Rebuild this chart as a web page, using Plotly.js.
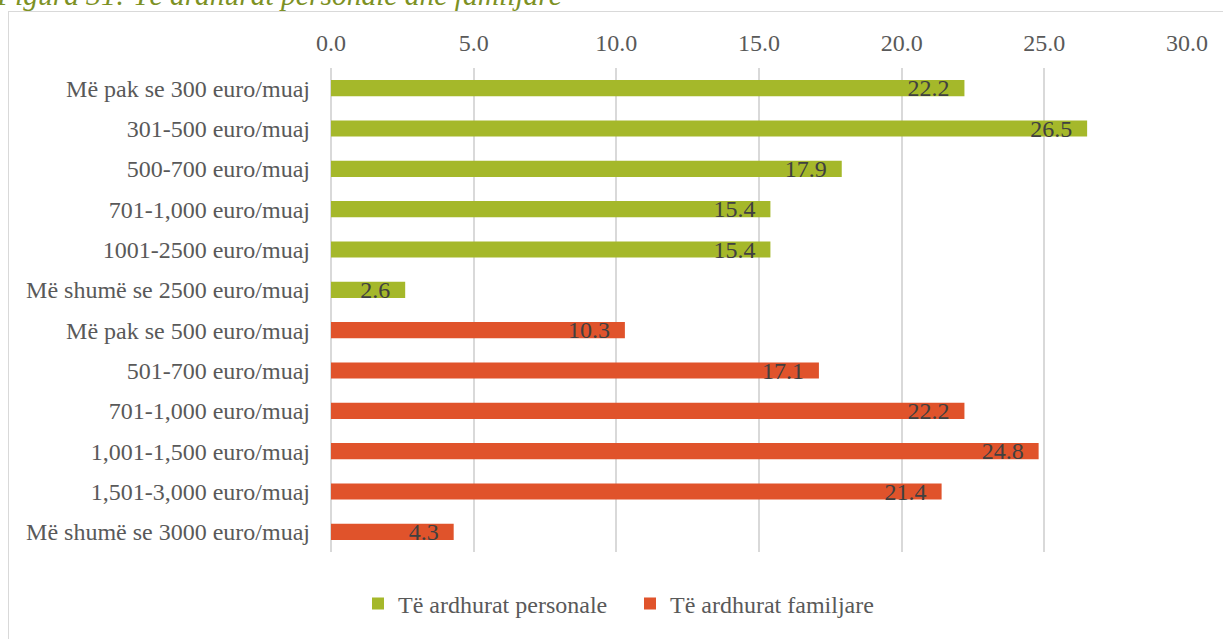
<!DOCTYPE html>
<html>
<head>
<meta charset="utf-8">
<script src="https://cdn.plot.ly/plotly-3.0.1.min.js"></script>
<style>
  html, body { margin: 0; padding: 0; background: #fff; overflow: hidden; }
  #wrap { position: relative; width: 1223px; height: 639px; }
  #frame { position: absolute; left: 8px; top: 11px; width: 1240px; height: 700px;
           border: 1.5px solid #d9d9d9; box-sizing: border-box; pointer-events: none; z-index: 5; }
  #chart { position: absolute; left: 0; top: 0; width: 1223px; height: 639px; }
</style>
</head>
<body>
<div id="wrap">
  <div id="chart"></div>
  <div id="frame"></div>
</div>
<script>
const titleText = "Figura 31: Të ardhurat personale dhe familjare";
const personalLabels = [
  "Më pak se 300 euro/muaj",
  "301-500 euro/muaj",
  "500-700 euro/muaj",
  "701-1,000 euro/muaj",
  "1001-2500 euro/muaj",
  "Më shumë se 2500 euro/muaj"
];
const personalValues = [22.2, 26.5, 17.9, 15.4, 15.4, 2.6];
const familyLabels = [
  "Më pak se 500 euro/muaj",
  "501-700 euro/muaj",
  "701-1,000 euro/muaj",
  "1,001-1,500 euro/muaj",
  "1,501-3,000 euro/muaj",
  "Më shumë se 3000 euro/muaj"
];
const familyValues = [10.3, 17.1, 22.2, 24.8, 21.4, 4.3];
const seriesNames = ["Të ardhurat personale", "Të ardhurat familjare"];
const xTicks = [0, 5, 10, 15, 20, 25, 30];

const allLabels = personalLabels.concat(familyLabels);
const personalPos = personalLabels.map((_, i) => i);
const familyPos = familyLabels.map((_, i) => i + personalLabels.length);
const FONT = "Liberation Serif, Times New Roman, serif";
const pad = "\u00a0\u00a0";

const common = {
  type: "bar", orientation: "h", width: 0.4,
  textposition: "inside", insidetextanchor: "end", constraintext: "none",
  textfont: { family: FONT, size: 24, color: "#404040" },
  hoverinfo: "x+name", cliponaxis: false
};

const traces = [
  Object.assign({}, common, {
    name: seriesNames[0], x: personalValues, y: personalPos,
    text: personalValues.map(v => v.toFixed(1) + pad),
    marker: { color: "#a5b82a" }
  }),
  Object.assign({}, common, {
    name: seriesNames[1], x: familyValues, y: familyPos,
    text: familyValues.map(v => v.toFixed(1) + pad),
    marker: { color: "#e0532b" }
  })
];

const layout = {
  width: 1223, height: 639,
  margin: { l: 331, r: 36, t: 68, b: 87, pad: 0 },
  paper_bgcolor: "#ffffff", plot_bgcolor: "#ffffff",
  barmode: "overlay",
  font: { family: FONT, size: 24, color: "#595959" },
  xaxis: {
    side: "top", range: [0, 30], tickvals: xTicks,
    ticktext: xTicks.map(v => v.toFixed(1)),
    showgrid: true, gridcolor: "#d9d9d9", gridwidth: 2,
    zeroline: true, zerolinecolor: "#d9d9d9", zerolinewidth: 2,
    showline: false, ticks: "", ticklabelstandoff: 11,
    tickfont: { family: FONT, size: 24, color: "#595959" }
  },
  yaxis: {
    range: [allLabels.length - 0.5, -0.5],
    tickvals: allLabels.map((_, i) => i), ticktext: allLabels,
    showgrid: false, zeroline: false, showline: false, ticks: "",
    ticklabelstandoff: 20,
    tickfont: { family: FONT, size: 24, color: "#595959" }
  },
  showlegend: true,
  legend: {
    orientation: "h", x: (630 - 331) / 856, xanchor: "center",
    y: -(604 - 552) / 484, yanchor: "middle",
    entrywidth: 227, entrywidthmode: "pixels",
    font: { family: FONT, size: 24, color: "#595959" },
    itemclick: false, itemdoubleclick: false, traceorder: "normal"
  },
  annotations: [{
    text: titleText, xref: "paper", yref: "paper",
    x: (-6 - 331) / 856, xanchor: "left",
    y: 1 + (68 - 13) / 484, yanchor: "bottom",
    showarrow: false,
    font: { family: FONT, size: 29.5, color: "#7d9124", style: "italic" }
  }]
};

Plotly.newPlot("chart", traces, layout, { staticPlot: true, displayModeBar: false });
</script>
</body>
</html>
